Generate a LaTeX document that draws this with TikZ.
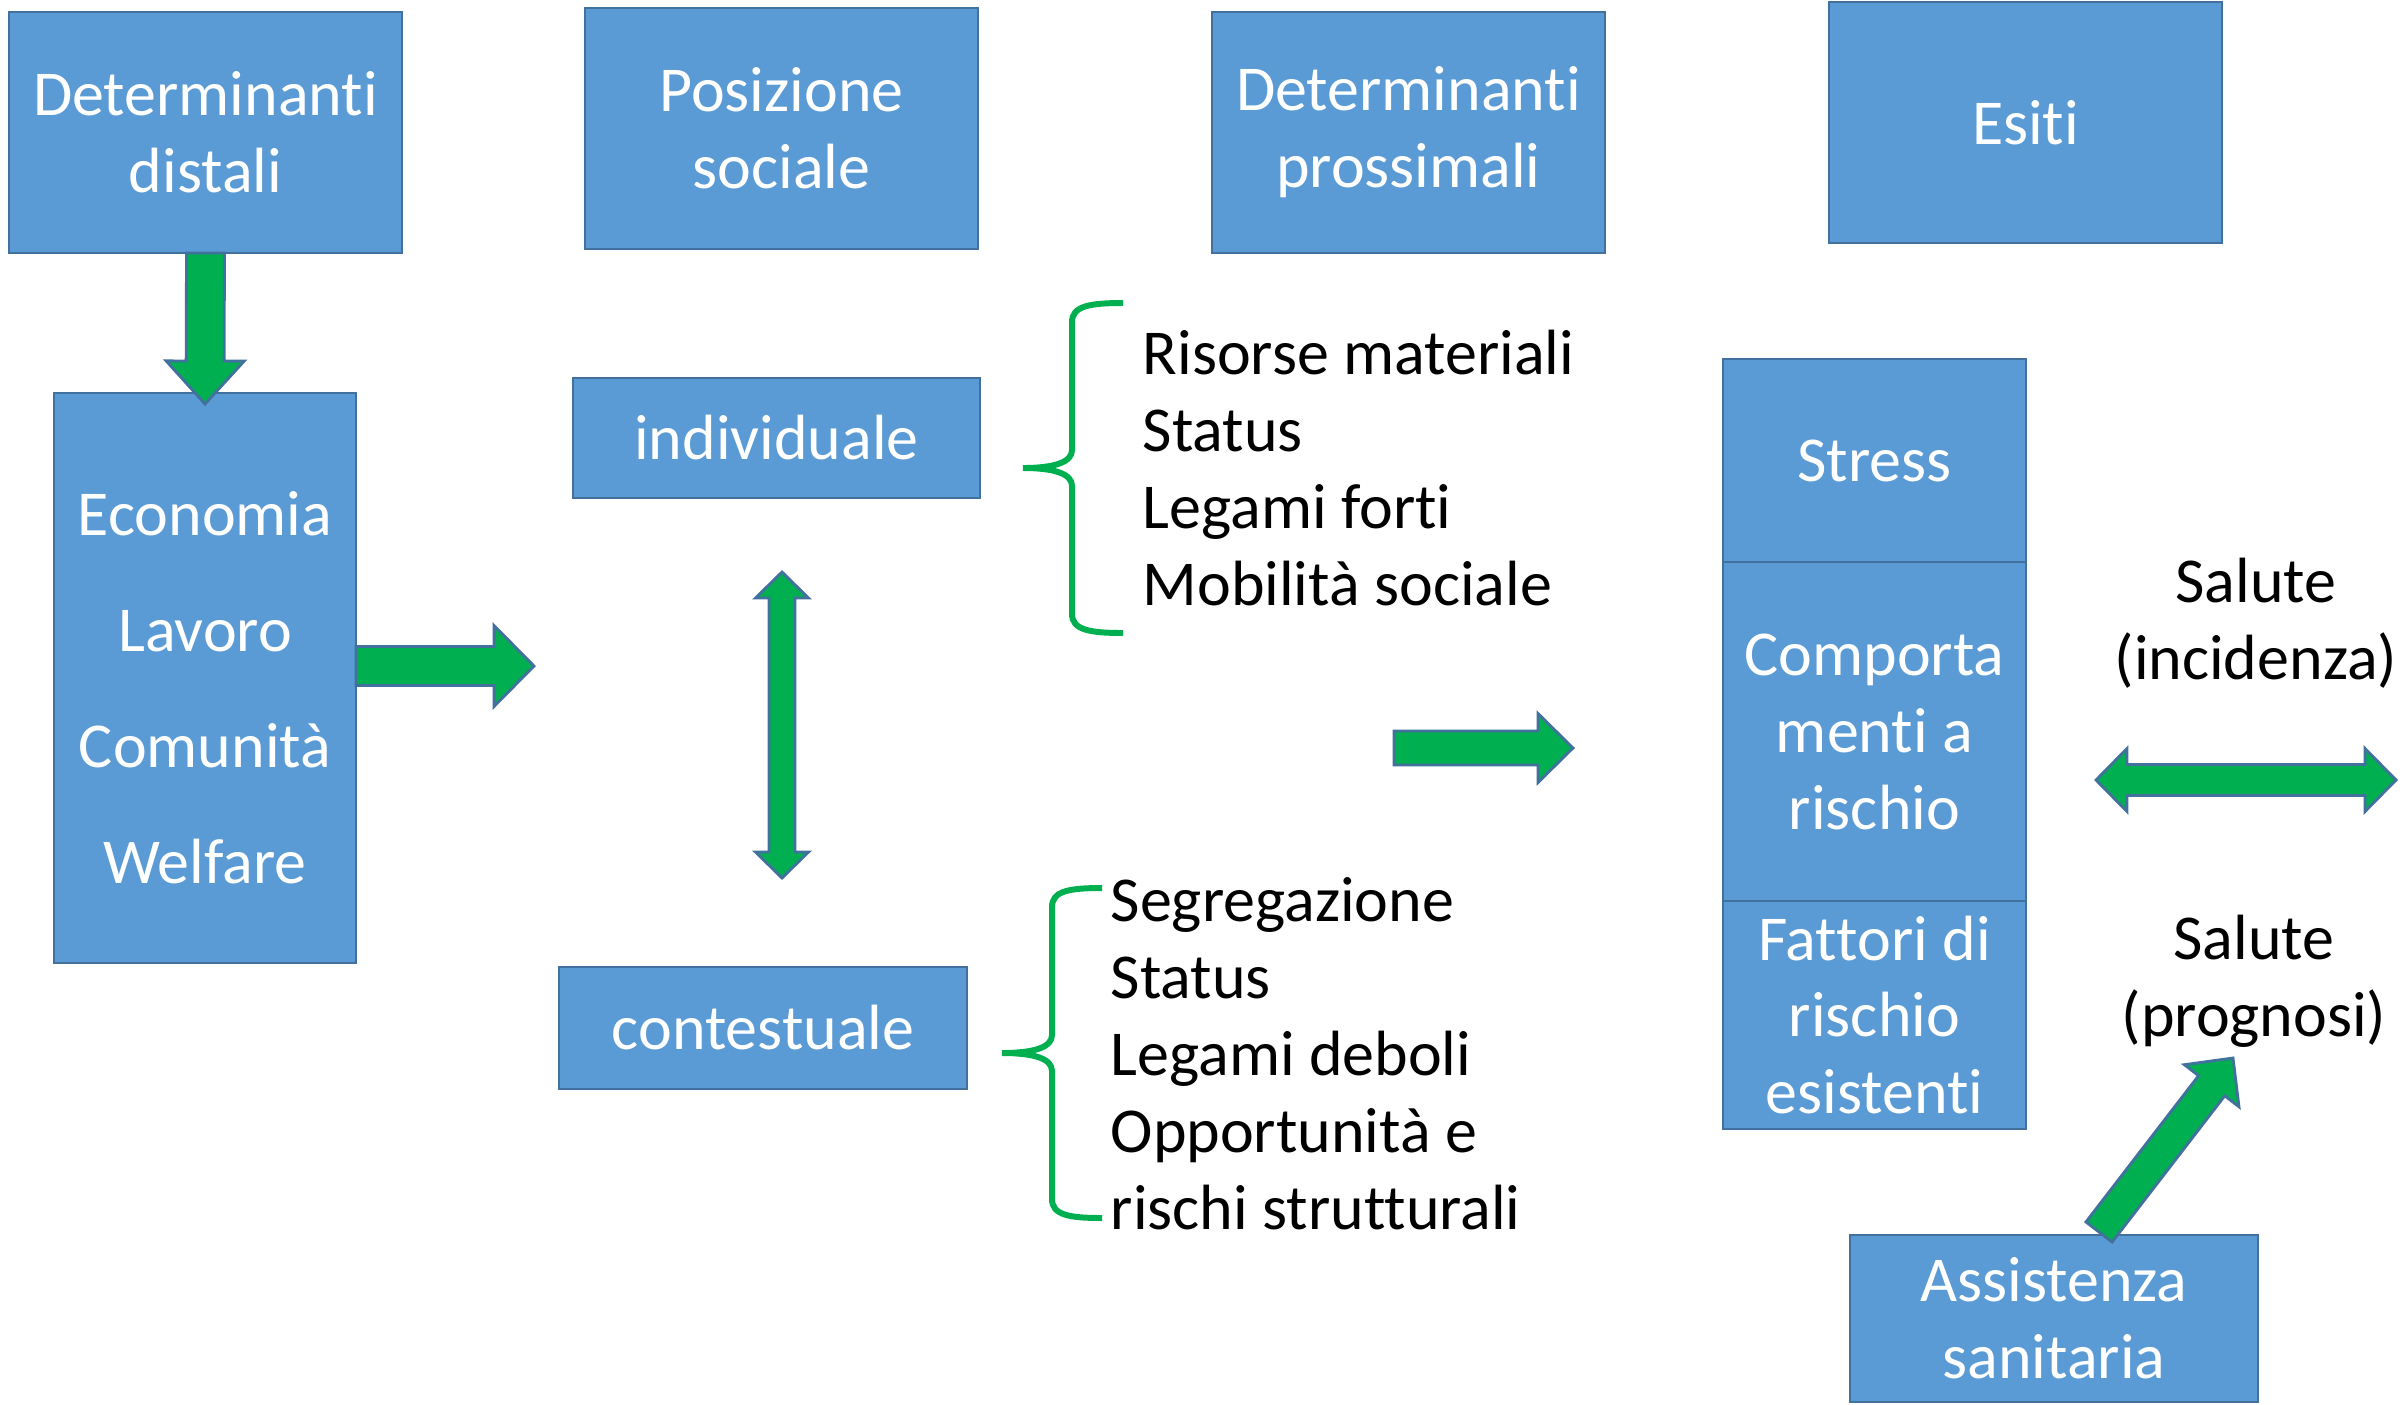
\documentclass[tikz,border=0pt]{standalone}
\usepackage{fontspec}
\setmainfont{Carlito}[Ligatures=NoCommon]
\usetikzlibrary{positioning,calc}

\definecolor{boxblue}{HTML}{5B9BD5}
\definecolor{boxline}{HTML}{41719C}
\definecolor{arrgreen}{HTML}{00B050}

% block arrow: from, to, shaft half width, head half width, head length
\newcommand{\fatarrow}[5]{%
  \coordinate (neck) at ($(#2)!#5!(#1)$);
  \draw[fat] ($(#1)!#3!90:(#2)$) -- ($(neck)!#3!90:(#2)$) -- ($(neck)!#4!90:(#2)$)
    -- (#2) -- ($(neck)!#4!-90:(#2)$) -- ($(neck)!#3!-90:(#2)$) -- ($(#1)!#3!-90:(#2)$) -- cycle;
}
% same, with a head at both ends
\newcommand{\fatdarrow}[5]{%
  \coordinate (necka) at ($(#1)!#5!(#2)$);
  \coordinate (neckb) at ($(#2)!#5!(#1)$);
  \draw[fat] (#1) -- ($(necka)!#4!90:(#2)$) -- ($(necka)!#3!90:(#2)$) -- ($(neckb)!#3!90:(#2)$)
    -- ($(neckb)!#4!90:(#2)$) -- (#2) -- ($(neckb)!#4!-90:(#2)$) -- ($(neckb)!#3!-90:(#2)$)
    -- ($(necka)!#3!-90:(#2)$) -- ($(necka)!#4!-90:(#2)$) -- cycle;
}

\begin{document}
\begin{tikzpicture}[
  x=0.1mm, y=-0.1mm,
  font=\fontsize{18.2}{21.9}\selectfont,
  box/.style={draw=boxline, fill=boxblue, text=white, line width=0.8pt, inner sep=0pt, outer sep=0pt, align=center},
  topbox/.style={box, minimum width=39.3mm, minimum height=24.1mm},
  riskbox/.style={box, minimum width=30.3mm},
  list/.style={align=left, inner sep=0pt, anchor=west},
  plain/.style={align=center, inner sep=0pt},
  fat/.style={fill=arrgreen, draw=boxline, line width=0.8pt, line join=miter},
  brace/.style={draw=arrgreen, line width=1.7pt}
]
\useasboundingbox (0,0) rectangle (2408,1404);

% column headers
\node[topbox] (dist) at (205.5,132.5) {Determinanti\\distali};
\node[topbox] (pos) at (781.5,128.5) {Posizione\\sociale};
\node[topbox] (prox) at (1408.5,132.5) {Determinanti\\prossimali};
\node[topbox] (esiti) at (2025.5,122.5) {Esiti};

\node[box, minimum width=30.2mm, minimum height=57mm, font=\fontsize{18.2}{33}\selectfont] (eco) at (205,678) {\rule{0pt}{6.4mm}Economia\\Lavoro\\Comunità\\Welfare};

\node[box, minimum width=40.7mm, minimum height=12mm] (indiv) at (776.5,438) {individuale};
\node[box, minimum width=40.8mm, minimum height=12.2mm] (cont) at (763,1028) {contestuale};

\node[list] (risorse) at (1142,468) {Risorse materiali\\Status\\Legami forti\\Mobilità sociale};
\node[list] (segreg) at (1110,1053.5) {Segregazione\\Status\\Legami deboli\\Opportunità e\\rischi strutturali};

\node[riskbox, minimum height=20.3mm] (stress) at (1874.5,460.5) {Stress};
\node[riskbox, minimum height=33.9mm, below=0pt of stress] (comp) {Comporta\\menti a\\rischio};
\node[riskbox, minimum height=22.8mm, below=0pt of comp] (fatt) {Fattori di\\rischio\\esistenti};

\node[plain] (inc) at (2256,623) {Salute\\(incidenza)};
\node[plain] (prog) at (2254,981) {Salute\\(prognosi)};

\node[box, minimum width=40.8mm, minimum height=16.7mm] (assist) at (2054,1318.5) {Assistenza\\sanitaria};

% braces
\draw[brace] (1123,303) .. controls (1090,303) and (1072,306) .. (1072,322) -- (1072,450)
  .. controls (1072,462) and (1055,468) .. (1023,468) .. controls (1055,468) and (1072,474) .. (1072,486)
  -- (1072,614) .. controls (1072,630) and (1090,633) .. (1123,633);
\draw[brace] (1102,888) .. controls (1069,888) and (1052,891) .. (1052,907) -- (1052,1035)
  .. controls (1052,1047) and (1035,1053) .. (1002,1053) .. controls (1035,1053) and (1052,1059) .. (1052,1071)
  -- (1052,1199) .. controls (1052,1215) and (1069,1218) .. (1102,1218);

% block arrows
\coordinate (dtip) at (205,404);
\fatarrow{dist.south}{dtip}{1.9mm}{3.9mm}{4.3mm}
\coordinate (e1) at (356,666);
\coordinate (e2) at (534,666);
\fatarrow{e1}{e2}{1.95mm}{4.05mm}{4mm}
\coordinate (v1) at (782,572);
\coordinate (v2) at (782,878);
\fatdarrow{v1}{v2}{1.3mm}{2.65mm}{2.6mm}
\coordinate (m1) at (1394,748);
\coordinate (m2) at (1573,748);
\fatarrow{m1}{m2}{1.7mm}{3.45mm}{3.5mm}
\coordinate (s1) at (2096,780);
\coordinate (s2) at (2396,780);
\fatdarrow{s1}{s2}{1.55mm}{3.15mm}{3.1mm}
\coordinate (a1) at (2099,1232);
\coordinate (a2) at (2233,1058);
\fatarrow{a1}{a2}{1.65mm}{3.45mm}{3.5mm}

\end{tikzpicture}
\end{document}
